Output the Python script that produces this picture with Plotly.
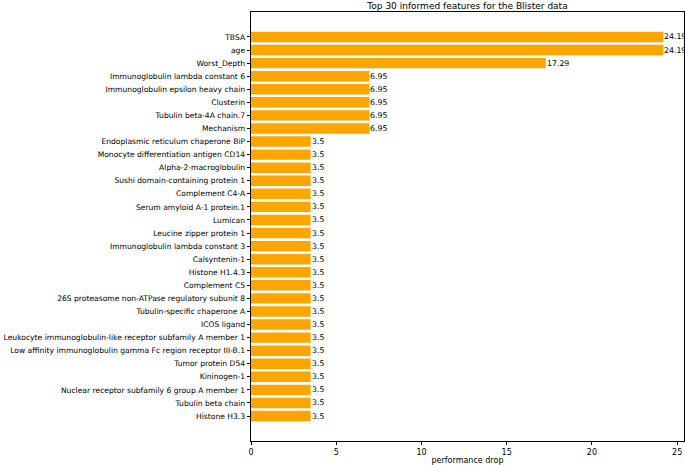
import plotly.graph_objects as go

features = [
    "TBSA", "age", "Worst_Depth", "Immunoglobulin lambda constant 6",
    "Immunoglobulin epsilon heavy chain", "Clusterin", "Tubulin beta-4A chain.7",
    "Mechanism", "Endoplasmic reticulum chaperone BiP",
    "Monocyte differentiation antigen CD14", "Alpha-2-macroglobulin",
    "Sushi domain-containing protein 1", "Complement C4-A",
    "Serum amyloid A-1 protein.1", "Lumican", "Leucine zipper protein 1",
    "Immunoglobulin lambda constant 3", "Calsyntenin-1", "Histone H1.4.3",
    "Complement C5", "26S proteasome non-ATPase regulatory subunit 8",
    "Tubulin-specific chaperone A", "ICOS ligand",
    "Leukocyte immunoglobulin-like receptor subfamily A member 1",
    "Low affinity immunoglobulin gamma Fc region receptor III-B.1",
    "Tumor protein D54", "Kininogen-1",
    "Nuclear receptor subfamily 6 group A member 1", "Tubulin beta chain",
    "Histone H3.3",
]
values = [24.19, 24.19, 17.29, 6.95, 6.95, 6.95, 6.95, 6.95] + [3.5] * 22
x_ticks = [0, 5, 10, 15, 20, 25]

FONT = "DejaVu Sans"
n = len(features)
pos = list(range(n))

fig = go.Figure(go.Bar(
    x=values, y=pos, orientation="h",
    marker=dict(color="#FFA500", line=dict(width=0)),
    width=0.8,
    hoverinfo="x+y",
))

for p, v in zip(pos, values):
    fig.add_annotation(
        x=v, y=p, xref="x", yref="y", text=f"{v:g}", showarrow=False,
        xanchor="left", yanchor="middle", xshift=-1,
        font=dict(family=FONT, size=7.8, color="black"),
    )

fig.update_layout(
    width=685, height=465,
    margin=dict(l=251, r=1, t=12, b=24, autoexpand=False),
    paper_bgcolor="white", plot_bgcolor="white",
    font=dict(family=FONT, size=8, color="black"),
    showlegend=False,
    title=dict(text="Top 30 informed features for the Blister data",
               x=(251 + 684) / 2 / 685, xanchor="center",
               y=1 - 6 / 465, yanchor="middle",
               font=dict(family=FONT, size=9, color="black")),
    bargap=0.2,
)
fig.update_xaxes(
    range=[0, 25.4], tickvals=x_ticks, ticks="outside", ticklen=3.5,
    tickcolor="black", tickwidth=0.8, showline=True, linecolor="black",
    linewidth=0.8, mirror=True, showgrid=False, zeroline=False,
    title=dict(text="performance drop", standoff=1, font=dict(size=8)),
    tickfont=dict(size=8), automargin=False,
)
fig.update_yaxes(
    range=[n - 1 + 1.91, -1.91], tickvals=pos, ticktext=features,
    ticks="outside", ticklen=3.5, tickcolor="black", tickwidth=0.8,
    showline=True, linecolor="black", linewidth=0.8, mirror=True,
    showgrid=False, zeroline=False, tickfont=dict(size=7.6), automargin=False,
)

fig.write_html("out.html", config={"displayModeBar": False},
               post_script="document.body.style.margin='0';")
